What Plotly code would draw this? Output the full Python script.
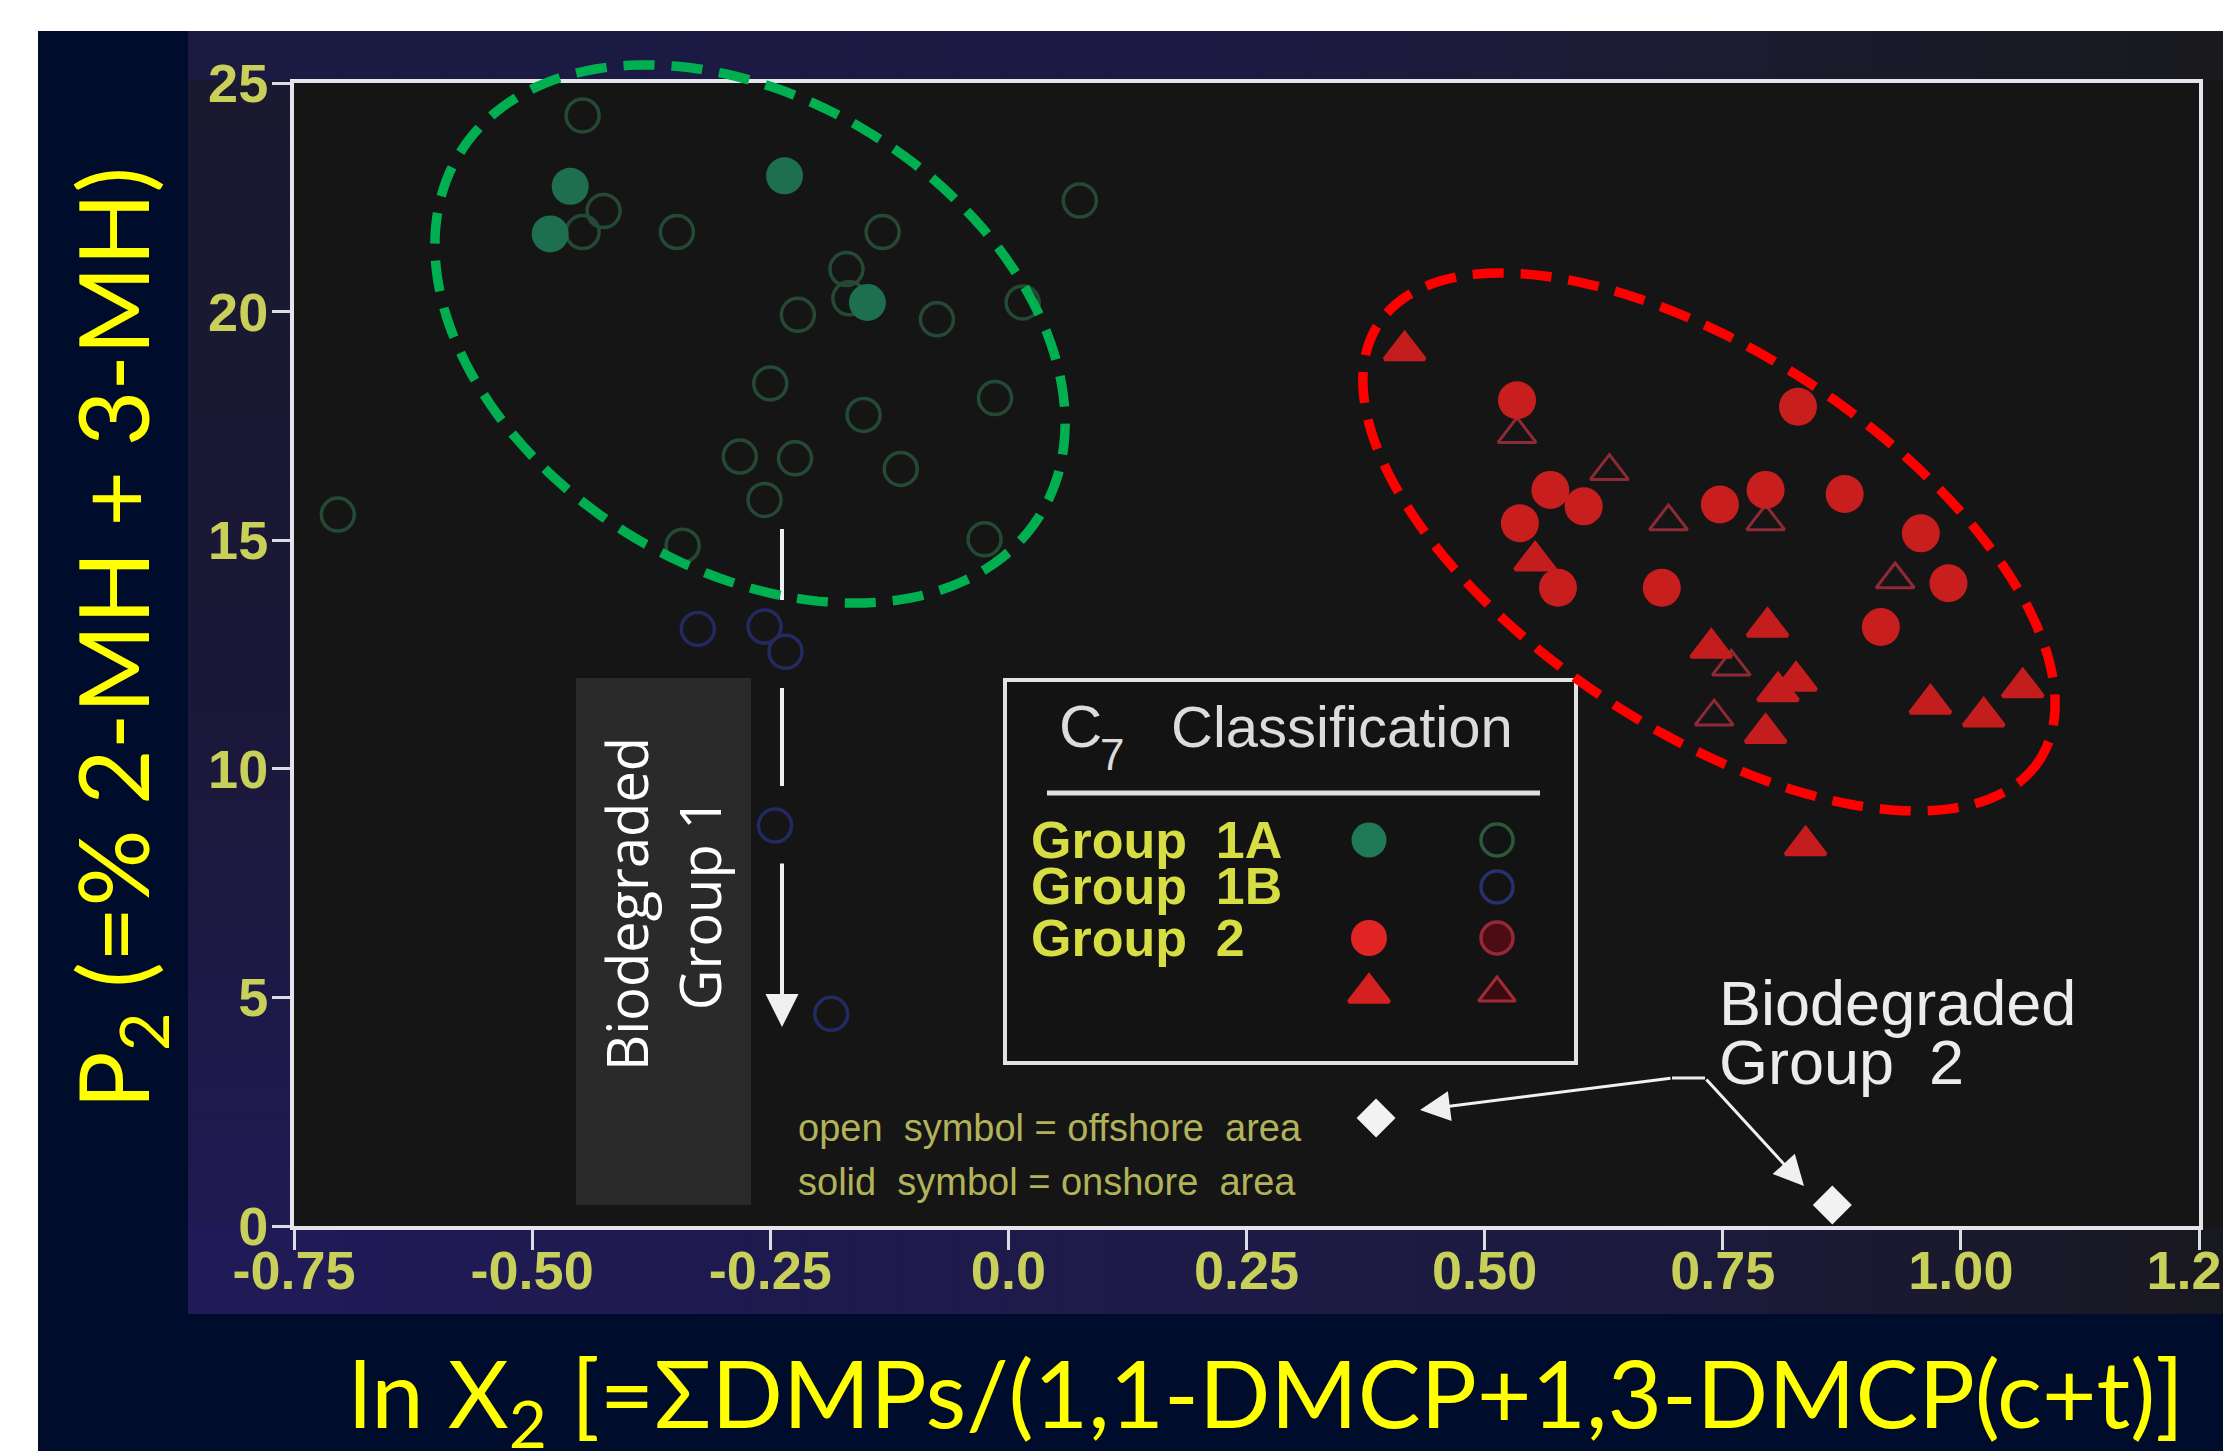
import numpy as np
import plotly.graph_objects as go

# ---------------- data ----------------
# Group 1A, onshore (solid green circles)
g1a_on_x = [-0.460, -0.481, -0.235, -0.148]
g1a_on_y = [22.74, 21.70, 22.97, 20.20]
# Group 1A, offshore (open green circles)
g1a_off_x = [-0.447, -0.425, -0.447, -0.348, -0.132, 0.075, -0.170, -0.167, -0.221,
             -0.075, 0.015, -0.250, -0.014, -0.152, -0.282, -0.224, -0.113, -0.256,
             -0.704, -0.342, -0.025]
g1a_off_y = [24.29, 22.20, 21.74, 21.74, 21.74, 22.43, 20.93, 20.29, 19.93,
             19.83, 20.20, 18.43, 18.11, 17.74, 16.83, 16.79, 16.56, 15.88,
             15.56, 14.88, 15.02]
# Group 1B, offshore (open blue circles)
g1b_off_x = [-0.326, -0.256, -0.234, -0.245, -0.186]
g1b_off_y = [13.06, 13.11, 12.56, 8.76, 4.64]
# Group 2, onshore circles (solid red)
g2_on_circ_x = [0.534, 0.829, 0.569, 0.604, 0.537, 0.577, 0.747, 0.795, 0.878,
                0.686, 0.958, 0.987, 0.916]
g2_on_circ_y = [18.06, 17.92, 16.10, 15.74, 15.37, 13.96, 15.78, 16.10, 16.01,
                13.96, 15.15, 14.06, 13.10]
# Group 2, onshore triangles (solid red)
g2_on_tri_x = [0.416, 0.553, 0.797, 0.738, 0.808, 0.827, 0.795, 0.968, 1.024, 1.065, 0.837]
g2_on_tri_y = [19.15, 14.55, 13.10, 12.64, 11.69, 11.92, 10.78, 11.42, 11.14, 11.78, 8.32]
# Group 2, offshore triangles (open red)
g2_off_tri_x = [0.534, 0.631, 0.693, 0.795, 0.931, 0.759, 0.741]
g2_off_tri_y = [17.32, 16.51, 15.41, 15.41, 14.14, 12.23, 11.14]
# Biodegraded Group 2 (white diamonds)
bio2_x = [0.386, 0.865]
bio2_y = [2.36, 0.46]

x_ticks = [-0.75, -0.50, -0.25, 0.0, 0.25, 0.50, 0.75, 1.00, 1.25]
x_ticklabels = ["-0.75", "-0.50", "-0.25", "0.0", "0.25", "0.50", "0.75", "1.00", "1.25"]
y_ticks = [0, 5, 10, 15, 20, 25]
y_ticklabels = ["0", "5", "10", "15", "20", "25"]

x_title = "ln X<sub>2</sub> [=ΣDMPs/(1,1-DMCP+1,3-DMCP(c+t)]"
y_title = "P<sub>2</sub> (=% 2-MH + 3-MH)"
legend_title = "Classification"
legend_rows = ["Group  1A", "Group  1B", "Group  2"]
note_lines = ["open  symbol = offshore  area", "solid  symbol = onshore  area"]

# ---------------- layout geometry (page pixels) ----------------
W, H = 2231, 1451
OFF = 8                      # default page margin around the figure
L, R, T, B = 294, 2199, 83, 1226
XR = [-0.75, 1.25]
YR = [0, 25]


def pp(X, Y):
    return (X - L) / (R - L), (B - Y) / (B - T)


def pd_(X, Y):
    return (XR[0] + (X - L) / (R - L) * (XR[1] - XR[0]),
            YR[0] + (B - Y) / (B - T) * (YR[1] - YR[0]))


shapes = []


def rect(x0, y0, x1, y1, fill, layer="below", line=None):
    a0, b0 = pp(x0, y1)
    a1, b1 = pp(x1, y0)
    shapes.append(dict(type="rect", xref="paper", yref="paper", x0=a0, y0=b0, x1=a1, y1=b1,
                       fillcolor=fill, line=line or dict(width=0), layer=layer))


def hexrgb(h):
    h = h.lstrip("#")
    return [int(h[i:i + 2], 16) for i in (0, 2, 4)]


def interp(stops, t):
    for (t0, c0), (t1, c1) in zip(stops[:-1], stops[1:]):
        if t0 <= t <= t1:
            f = 0 if t1 == t0 else (t - t0) / (t1 - t0)
            a, b = hexrgb(c0), hexrgb(c1)
            return "rgb(%d,%d,%d)" % tuple(round(a[i] + (b[i] - a[i]) * f) for i in range(3))
    return stops[-1][1]


def hgrad(x0, x1, y0, y1, stops, n=40):
    xs = np.linspace(x0, x1, n + 1)
    for i in range(n):
        rect(xs[i], y0, xs[i + 1] + 1, y1, interp(stops, (xs[i] + xs[i + 1]) / 2))


def vgrad(x0, x1, y0, y1, stops, n=40):
    ys = np.linspace(y0, y1, n + 1)
    for i in range(n):
        rect(x0, ys[i], x1, ys[i + 1] + 1, interp(stops, (ys[i] + ys[i + 1]) / 2))


# slide background
rect(38, 31, W, H, "#000c2b")
# scanned chart background
rect(188, 31, W, 1314, "#161617")
hgrad(188, W, 31, 80, [(188, "#1b1a42"), (1200, "#1c1a44"), (1750, "#1c1b30"), (W, "#19191d")])
vgrad(188, 292, 80, 1228, [(80, "#1a1930"), (650, "#1a1836"), (1228, "#1f1a52")])
hgrad(188, W, 1228, 1314, [(188, "#201a58"), (900, "#1e1a4c"), (1650, "#1c1a3e"), (W, "#18181f")])
rect(292, 80, R + 2, 1228, "#151515")

# "Biodegraded Group 1" grey box
rect(576, 678, 751, 1205, "#2a2a2a")
# legend box
rect(1005, 680, 1576, 1063, "#131313", line=dict(color="#e2e2e2", width=4))


def line_px(x0, y0, x1, y1, color="#f0f0f0", width=4, layer="above"):
    a0, b0 = pp(x0, y0)
    a1, b1 = pp(x1, y1)
    shapes.append(dict(type="line", xref="paper", yref="paper", x0=a0, y0=b0, x1=a1, y1=b1,
                       line=dict(color=color, width=width), layer=layer))


line_px(1047, 793, 1540, 793, "#e0e0e0", 5)
# biodegraded group 1 arrow shaft (broken)
line_px(782, 529, 782, 600)
line_px(782, 688, 782, 786)
line_px(1672, 1078, 1705, 1078, "#ececec", 3)


def ellipse(cx, cy, a, b, th, color, n=160):
    t = np.linspace(0, 2 * np.pi, n)
    r = np.radians(th)
    X = cx + a * np.cos(t) * np.cos(r) - b * np.sin(t) * np.sin(r)
    Y = cy + a * np.cos(t) * np.sin(r) + b * np.sin(t) * np.cos(r)
    pts = [pp(x, y) for x, y in zip(X, Y)]
    path = "M" + " L".join("%.5f,%.5f" % p for p in pts) + " Z"
    shapes.append(dict(type="path", xref="paper", yref="paper", path=path,
                       line=dict(color=color, width=9.5, dash="31px,17px"), layer="above"))


ellipse(750, 334, 342, 234, 32.2, "#00b050")
ellipse(1709, 542, 396, 188, 33.5, "#ff0000")

# ---------------- traces ----------------
fig = go.Figure()


def sc(x, y, symbol, size, fill, lcolor, lwidth):
    fig.add_trace(go.Scatter(x=x, y=y, mode="markers", hoverinfo="skip",
                             marker=dict(symbol=symbol, size=size, color=fill,
                                         line=dict(color=lcolor, width=lwidth))))


clear = "rgba(0,0,0,0)"
sc(g1a_off_x, g1a_off_y, "circle", 33, clear, "#244a35", 3.5)
sc(g1b_off_x, g1b_off_y, "circle", 33, clear, "#222a60", 3.5)
sc(g1a_on_x, g1a_on_y, "circle", 37, "#1d6f50", "#1d6f50", 0)
sc(g2_off_tri_x, g2_off_tri_y, "triangle-up", 33, clear, "#8e2a36", 3)
sc(g2_on_tri_x, g2_on_tri_y, "triangle-up", 35, "#c41d1d", "#c41d1d", 4)
sc(g2_on_circ_x, g2_on_circ_y, "circle", 38, "#c81e1e", "#c81e1e", 0)
sc(bio2_x, bio2_y, "diamond", 30, "#f2f2f2", "#f2f2f2", 0)

# legend keys (positions inside the legend box)
key_col = [1369, 1497]
key_row = [840, 887, 938, 993]
keys = [
    (0, 0, "circle", 35, "#1f7856", "#1f7856", 0),
    (1, 0, "circle", 32, clear, "#2b5a3a", 3.5),
    (1, 1, "circle", 32, clear, "#28306e", 3.5),
    (0, 2, "circle", 36, "#e02424", "#e02424", 0),
    (1, 2, "circle", 32, "#4c0c14", "#962838", 3.5),
    (0, 3, "triangle-up", 35, "#d42020", "#d42020", 4),
    (1, 3, "triangle-up", 32, "#3a0a10", "#a02a36", 3),
]
for c, rr, sym, s, f, lc, lw in keys:
    kx, ky = pd_(key_col[c], key_row[rr])
    sc([kx], [ky], sym, s, f, lc, lw)

# ---------------- annotations ----------------
anns = []


def ann(text, X, Y, size, color, family, xanchor="center", yanchor="middle", angle=0,
        weight="normal"):
    a, b = pp(X, Y)
    anns.append(dict(text=text, x=a, y=b, xref="paper", yref="paper", xanchor=xanchor,
                     yanchor=yanchor, showarrow=False, textangle=angle,
                     font=dict(size=size, color=color, family=family, weight=weight)))


def arrow(tx, ty, sx, sy, width, size):
    a, b = pp(tx, ty)
    anns.append(dict(text="", x=a, y=b, xref="paper", yref="paper", ax=sx - tx, ay=sy - ty,
                     axref="pixel", ayref="pixel", showarrow=True, arrowhead=2,
                     arrowwidth=width, arrowsize=size, arrowcolor="#f0f0f0", standoff=0))


TF = "Lato, 'Open Sans', sans-serif"
AF = "'Liberation Sans', Arial, sans-serif"
ann(y_title, 118, 638, 96, "#ffff00", TF, angle=-90)
ann(x_title, 1266, 1398, 94, "#ffff00", TF)

ann("C", 1057, 726, 60, "#dcdcdc", AF, xanchor="left")
ann("7", 1112, 754, 44, "#dcdcdc", AF)
ann(legend_title, 1169, 726, 58, "#dcdcdc", AF, xanchor="left")
for txt, yy in zip(legend_rows, [840, 886, 938]):
    ann(txt, 1029, yy, 52, "#d6de44", AF, xanchor="left", weight="bold")
for txt, yy in zip(note_lines, [1128, 1182]):
    ann(txt, 796, yy, 38, "#b2b25a", AF, xanchor="left")

ann("Biodegraded", 1717, 1003, 63, "#ececec", AF, xanchor="left")
ann("Group  2", 1717, 1062, 63, "#ececec", AF, xanchor="left")
ann("Biodegraded<br>Group 1", 662, 904, 56, "#ffffff", "'Open Sans', sans-serif", angle=-90)

arrow(782, 1027, 782, 862, 4, 1.65)
arrow(1420, 1110, 1672, 1078, 3, 2.0)
arrow(1804, 1186, 1705, 1078, 3, 2.0)

tickfont = dict(family=AF, size=54, color="#c8d05a", weight="bold")
fig.update_layout(
    width=W - OFF, height=H - OFF,
    margin=dict(l=L - OFF, r=W - R, t=T - OFF, b=H - B, pad=0, autoexpand=False),
    paper_bgcolor="#ffffff", plot_bgcolor="rgba(0,0,0,0)",
    showlegend=False, shapes=shapes, annotations=anns,
    xaxis=dict(range=XR, tickmode="array", tickvals=x_ticks, ticktext=x_ticklabels,
               showgrid=False, zeroline=False, showline=True, linecolor="#e4e4ec",
               linewidth=4, mirror=True, ticks="outside", ticklen=20, tickwidth=3,
               tickcolor="#dcdce4", ticklabeloverflow="allow", ticklabelstandoff=-26,
               tickfont=tickfont),
    yaxis=dict(range=YR, tickmode="array", tickvals=y_ticks, ticktext=y_ticklabels,
               showgrid=False, zeroline=False, showline=True, linecolor="#e4e4ec",
               linewidth=4, mirror=True, ticks="outside", ticklen=18, tickwidth=3,
               tickcolor="#dcdce4", ticklabeloverflow="allow", ticklabelstandoff=-7,
               tickfont=tickfont),
)

fig.write_html("out.html")
